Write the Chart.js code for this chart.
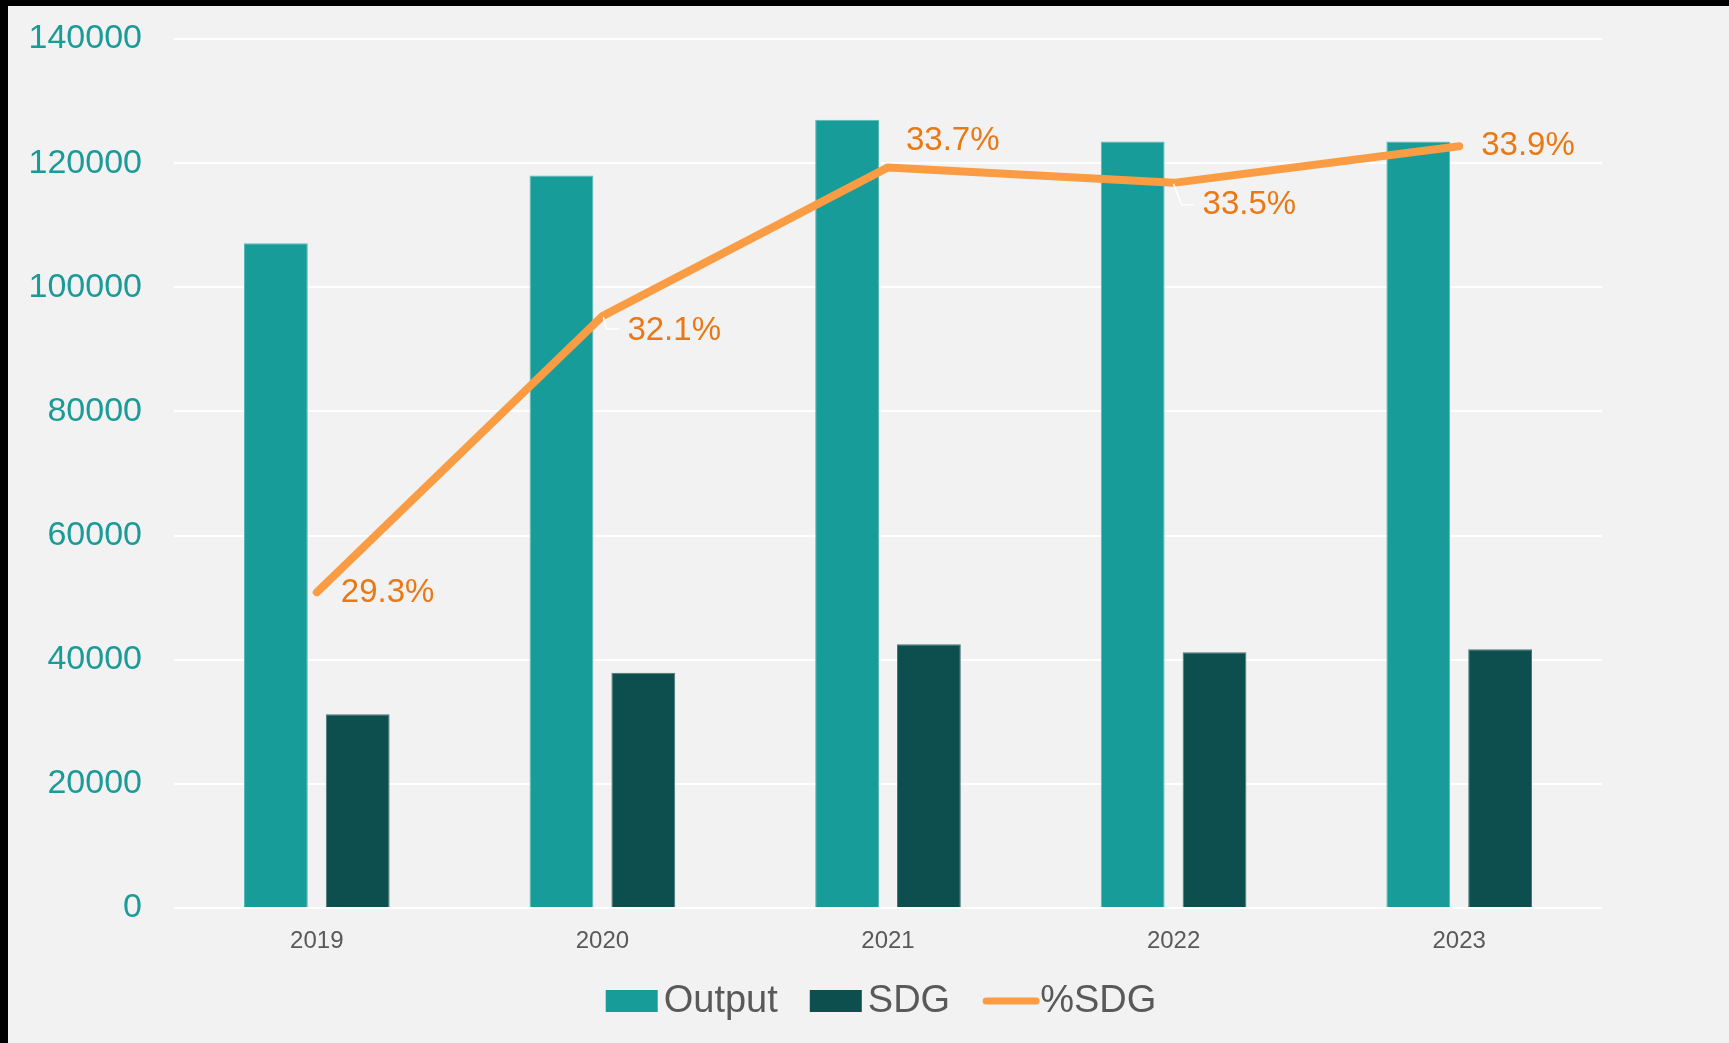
<!DOCTYPE html>
<html>
<head>
<meta charset="utf-8">
<script src="https://cdn.jsdelivr.net/npm/chart.js@4/dist/chart.umd.min.js"></script>
<style>
  html, body { margin: 0; padding: 0; background: #000; overflow: hidden; }
  #wrap { position: absolute; left: 8px; top: 6px; width: 1721px; height: 1037px; background: #f2f2f2; }
</style>
</head>
<body>
<div id="wrap"><canvas id="c"></canvas></div>
<script>
const categories = ['2019', '2020', '2021', '2022', '2023'];
const outputValues = [107100, 118000, 127000, 123500, 123500];
const sdgValues = [31200, 37900, 42500, 41200, 41700];
const pctSdgValues = [29.27, 32.13, 33.67, 33.51, 33.89];
const yTicks = [0, 20000, 40000, 60000, 80000, 100000, 120000, 140000];

const FONT = '"Liberation Sans", Arial, Helvetica, sans-serif';
const COL_OUTPUT = '#179c9a';
const COL_SDG = '#0d4f4e';
const COL_LINE = '#fa9c43';
const COL_LABEL = '#ea7815';

// label offsets (style only): [dx, dy, leader points or null]
const labelOffsets = [
  [24, 1, null],
  [25, 15, [[1, 1], [4, 13], [17, 13]]],
  [18, -27, null],
  [29, 22, [[0, 1], [8, 22], [20, 22]]],
  [22, 0, null]
];

const pctLabels = {
  id: 'pctLabels',
  afterDatasetsDraw(chart) {
    const ctx = chart.ctx;
    const meta = chart.getDatasetMeta(2);
    ctx.save();
    meta.data.forEach((pt, i) => {
      const [dx, dy, leader] = labelOffsets[i];
      if (leader) {
        ctx.beginPath();
        ctx.strokeStyle = '#ffffff';
        ctx.lineWidth = 1.5;
        leader.forEach((p, k) => {
          const fx = pt.x + p[0], fy = pt.y + p[1];
          if (k === 0) ctx.moveTo(fx, fy); else ctx.lineTo(fx, fy);
        });
        ctx.stroke();
      }
      ctx.fillStyle = COL_LABEL;
      ctx.font = '33px ' + FONT;
      ctx.textAlign = 'left';
      ctx.textBaseline = 'middle';
      ctx.fillText(pctSdgValues[i].toFixed(1) + '%', pt.x + dx, pt.y + dy);
    });
    ctx.restore();
  }
};

const customLegend = {
  id: 'customLegend',
  afterDraw(chart) {
    const ctx = chart.ctx;
    ctx.save();
    ctx.font = '38px ' + FONT;
    ctx.textBaseline = 'middle';
    ctx.textAlign = 'left';
    const items = [
      { text: 'Output', type: 'box', color: COL_OUTPUT },
      { text: 'SDG', type: 'box', color: COL_SDG },
      { text: '%SDG', type: 'line', color: COL_LINE }
    ];
    const symW = 52, gapText = 6, gapItem = 32;
    let total = 0;
    items.forEach((it, i) => {
      it.w = ctx.measureText(it.text).width;
      total += symW + gapText + it.w + (i < items.length - 1 ? gapItem : 0);
    });
    let x = 873 - total / 2;
    const cy = 995;
    items.forEach(it => {
      if (it.type === 'box') {
        ctx.fillStyle = it.color;
        ctx.fillRect(x, cy - 11, symW, 22);
      } else {
        ctx.strokeStyle = it.color;
        ctx.lineWidth = 7;
        ctx.lineCap = 'round';
        ctx.beginPath();
        ctx.moveTo(x + 4, cy);
        ctx.lineTo(x + symW + 2, cy);
        ctx.stroke();
      }
      x += symW + gapText;
      ctx.fillStyle = '#595959';
      ctx.fillText(it.text, x, cy + 1);
      x += it.w + gapItem;
    });
    ctx.restore();
  }
};

new Chart(document.getElementById('c'), {
  data: {
    labels: categories,
    datasets: [
      {
        type: 'bar', label: 'Output', data: outputValues,
        backgroundColor: COL_OUTPUT, borderColor: '#5cb8b5', borderWidth: 1,
        yAxisID: 'y', order: 1,
        categoryPercentage: 0.573, barPercentage: 0.78
      },
      {
        type: 'bar', label: 'SDG', data: sdgValues,
        backgroundColor: COL_SDG, borderColor: '#4d7776', borderWidth: 1,
        yAxisID: 'y', order: 1,
        categoryPercentage: 0.573, barPercentage: 0.78
      },
      {
        type: 'line', label: '%SDG', data: pctSdgValues,
        borderColor: COL_LINE, borderWidth: 8, borderCapStyle: 'round', borderJoinStyle: 'round',
        pointRadius: 0, pointHoverRadius: 0, tension: 0, fill: false,
        yAxisID: 'y2', order: 0
      }
    ]
  },
  options: {
    responsive: true,
    maintainAspectRatio: false,
    devicePixelRatio: 1,
    animation: false,
    layout: { padding: { top: 33, right: 127, left: 0, bottom: 0 } },
    plugins: {
      legend: { display: false },
      tooltip: { enabled: false }
    },
    scales: {
      x: {
        grid: { display: false, drawTicks: false },
        border: { display: false },
        ticks: { color: '#595959', font: { family: FONT, size: 24 }, padding: 19 },
        afterFit(s) { s.height = 135; }
      },
      y: {
        position: 'left',
        min: 0, max: 140000,
        afterBuildTicks(s) { s.ticks = yTicks.map(v => ({ value: v })); },
        grid: { color: '#ffffff', lineWidth: 2, drawTicks: false },
        border: { display: false },
        ticks: { color: '#1a9b98', font: { family: FONT, size: 34 }, padding: 32, callback: v => String(v) },
        afterFit(s) { s.width = 166; s.paddingTop = 0; s.paddingBottom = 0; }
      },
      y2: {
        display: false,
        min: 26, max: 35
      }
    }
  },
  plugins: [pctLabels, customLegend]
});
</script>
</body>
</html>
